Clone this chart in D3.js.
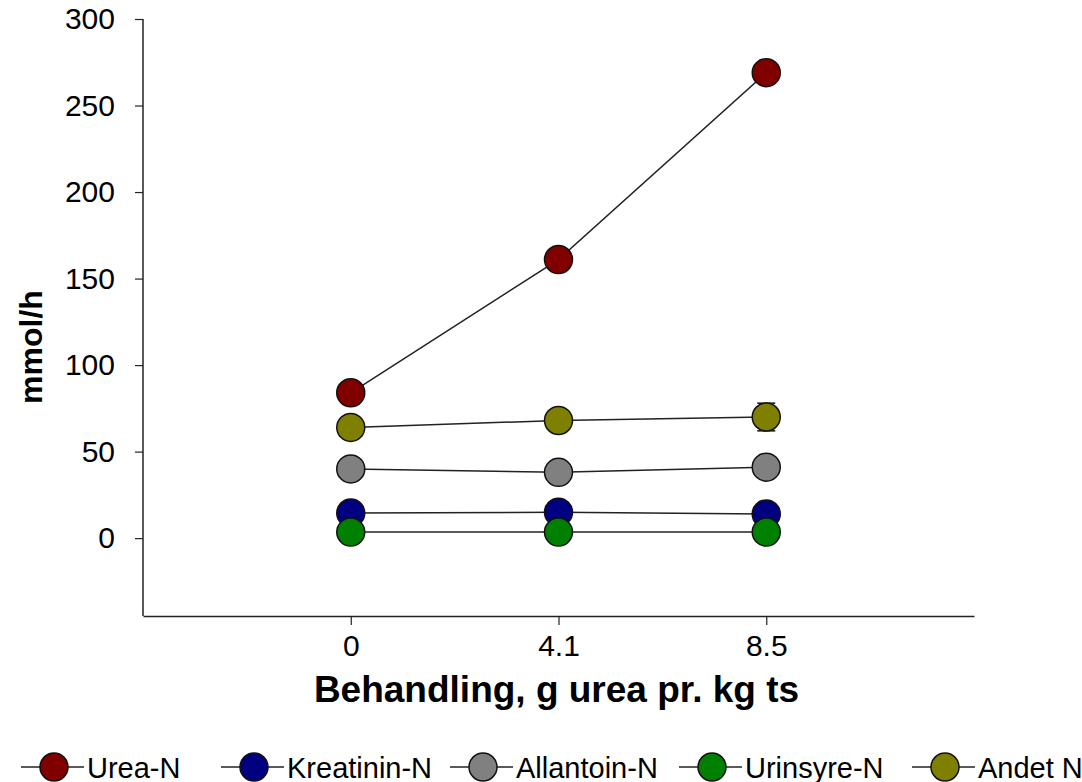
<!DOCTYPE html>
<html>
<head>
<meta charset="utf-8">
<script src="https://cdn.jsdelivr.net/npm/d3@7"></script>
<style>
  body { margin: 0; background: #fff; }
  svg { display: block; }
</style>
</head>
<body>
<div id="chart"></div>
<script>
// data
var treatments = ["0", "4.1", "8.5"];
var seriesNames = ["Urea-N", "Kreatinin-N", "Allantoin-N", "Urinsyre-N", "Andet N"];
var seriesColors = ["#800000", "#000080", "#808080", "#008000", "#808000"];
var ureaN = [84, 161, 269];
var kreatininN = [14.5, 15, 14];
var allantoinN = [40, 38, 41];
var urinsyreN = [3.5, 3.5, 3.5];
var andetN = [64, 68, 70];
var andetErr = [2, 3, 8];
var yTicks = [0, 50, 100, 150, 200, 250, 300];

var seriesValues = [ureaN, kreatininN, allantoinN, urinsyreN, andetN];
var seriesErr = [[2, 3, 4], [1, 1, 1], [1, 1, 1], [0.5, 0.5, 0.5], andetErr];

var width = 1082, height = 782;
var plotLeft = 143, plotRight = 974, plotTop = 19, plotBottom = 616;

var svg = d3.select("#chart").append("svg")
    .attr("width", width)
    .attr("height", height);

var x = d3.scalePoint()
    .domain(treatments)
    .range([plotLeft, plotRight])
    .padding(1);

var y = d3.scaleLinear()
    .domain([-45, 300])
    .range([plotBottom, plotTop]);

// axes
var yAxis = svg.append("g")
    .attr("transform", "translate(" + plotLeft + ",0)")
    .call(d3.axisLeft(y).tickValues(yTicks).tickSize(8).tickPadding(20).tickSizeOuter(0));
yAxis.select(".domain").attr("d", "M0," + y(300) + "V" + plotBottom)
    .attr("stroke", "#222").attr("stroke-width", 1.5);
yAxis.selectAll(".tick line").attr("stroke", "#222").attr("stroke-width", 1.2);
yAxis.selectAll(".tick text")
    .style("font-family", "'Liberation Sans', Arial, sans-serif")
    .style("font-size", "30px")
    .attr("fill", "#000");

var xAxis = svg.append("g")
    .attr("transform", "translate(0," + plotBottom + ")")
    .call(d3.axisBottom(x).tickSize(9).tickPadding(10).tickSizeOuter(0));
xAxis.select(".domain").attr("stroke", "#222").attr("stroke-width", 1.5);
xAxis.selectAll(".tick line").attr("stroke", "#222").attr("stroke-width", 1.2);
xAxis.selectAll(".tick text")
    .style("font-family", "'Liberation Sans Narrow', 'Liberation Sans', Arial, sans-serif")
    .style("font-size", "30px")
    .attr("fill", "#000");

// axis titles
svg.append("text")
    .attr("x", (plotLeft + plotRight) / 2 - 2)
    .attr("y", 702)
    .attr("text-anchor", "middle")
    .style("font-family", "'Liberation Sans Narrow', 'Liberation Sans', Arial, sans-serif")
    .style("font-weight", "bold")
    .style("font-size", "37px")
    .text("Behandling, g urea pr. kg ts");

svg.append("text")
    .attr("transform", "translate(42,347) rotate(-90)")
    .attr("text-anchor", "middle")
    .style("font-family", "'Liberation Sans', Arial, sans-serif")
    .style("font-weight", "bold")
    .style("font-size", "32px")
    .text("mmol/h");

// lines
var line = d3.line()
    .x(function(d, i) { return x(treatments[i]); })
    .y(function(d) { return y(d); });

seriesValues.forEach(function(vals) {
    svg.append("path")
        .datum(vals)
        .attr("d", line)
        .attr("fill", "none")
        .attr("stroke", "#222")
        .attr("stroke-width", 1.5);
});

// error bars
seriesValues.forEach(function(vals, s) {
    vals.forEach(function(v, i) {
        var cx = x(treatments[i]), e = seriesErr[s][i];
        var g = svg.append("g").attr("stroke", "#111").attr("stroke-width", 1.5);
        g.append("line").attr("x1", cx).attr("x2", cx).attr("y1", y(v - e)).attr("y2", y(v + e));
        g.append("line").attr("x1", cx - 9).attr("x2", cx + 9).attr("y1", y(v - e)).attr("y2", y(v - e));
        g.append("line").attr("x1", cx - 9).attr("x2", cx + 9).attr("y1", y(v + e)).attr("y2", y(v + e));
    });
});

// markers, drawn in order so green sits over blue
var drawOrder = [0, 4, 2, 1, 3];
drawOrder.forEach(function(s) {
    svg.selectAll(null)
        .data(seriesValues[s])
        .enter()
        .append("circle")
        .attr("cx", function(d, i) { return x(treatments[i]); })
        .attr("cy", function(d) { return y(d); })
        .attr("r", 14)
        .attr("fill", seriesColors[s])
        .attr("stroke", "#111")
        .attr("stroke-width", 1.5);
});

// legend
var legendX = [54, 254, 483, 712, 945];
var legendY = 767;
var legend = svg.append("g");
seriesNames.forEach(function(name, s) {
    var cx = legendX[s];
    legend.append("line")
        .attr("x1", cx - 33).attr("x2", cx + 30)
        .attr("y1", legendY).attr("y2", legendY)
        .attr("stroke", "#222").attr("stroke-width", 1.5);
    legend.append("circle")
        .attr("cx", cx).attr("cy", legendY).attr("r", 14)
        .attr("fill", seriesColors[s])
        .attr("stroke", "#111").attr("stroke-width", 1.5);
    legend.append("text")
        .attr("x", cx + 33)
        .attr("y", legendY + 11)
        .style("font-family", "'Liberation Sans Narrow', 'Liberation Sans', Arial, sans-serif")
        .style("font-size", "29px")
        .text(name);
});
</script>
</body>
</html>
